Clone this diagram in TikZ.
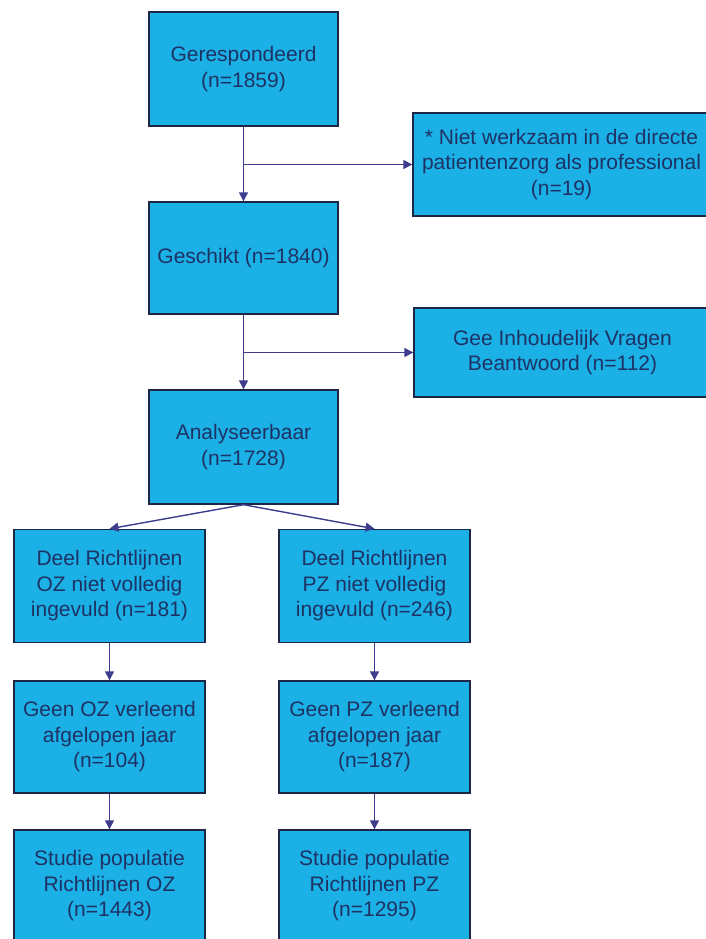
\documentclass[tikz,border=0pt]{standalone}
\usepackage{fontspec}
\setmainfont{Liberation Sans}
\usetikzlibrary{arrows.meta}
\definecolor{boxfill}{RGB}{27,176,230}
\definecolor{boxline}{RGB}{30,38,70}
\definecolor{arrowc}{RGB}{62,60,140}
\definecolor{textc}{RGB}{30,50,100}
\begin{document}
\begin{tikzpicture}[x=1pt,y=-1pt,
  fbox/.style={draw=boxline, line width=1.4pt, fill=boxfill, text=textc,
    align=center, inner sep=0pt, font=\fontsize{21}{25.5}\selectfont},
  mainbox/.style={fbox, minimum width=189pt, minimum height=114pt},
  sidebox/.style={fbox, minimum width=297pt},
  colbox/.style={fbox, minimum width=191pt, minimum height=113pt},
  conn/.style={draw=arrowc, line width=1.4pt, -{Triangle[length=9pt,width=9pt]}}]
\clip (0,0) rectangle (706,939);
\fill[white] (0,0) rectangle (706,939);
\node[mainbox] (b1) at (243.5,69) {Gerespondeerd\\(n=1859)};
\node[sidebox, minimum height=103pt] (n19) at (561.5,164.5) {* Niet werkzaam in de directe\\patientenzorg als professional\\(n=19)};
\node[mainbox, minimum height=112pt] (b2) at (243.5,258) {Geschikt (n=1840)};
\node[sidebox, minimum height=89pt] (n112) at (562.5,352.5) {Gee Inhoudelijk Vragen\\Beantwoord (n=112)};
\node[mainbox] (b3) at (243.5,447) {Analyseerbaar\\(n=1728)};
\node[colbox] (l1) at (109.5,586) {Deel Richtlijnen\\OZ niet volledig\\ingevuld (n=181)};
\node[colbox] (r1) at (374.5,586) {Deel Richtlijnen\\PZ niet volledig\\ingevuld (n=246)};
\node[colbox, minimum height=112pt] (l2) at (109.5,737) {Geen OZ verleend\\afgelopen jaar\\(n=104)};
\node[colbox, minimum height=112pt] (r2) at (374.5,737) {Geen PZ verleend\\afgelopen jaar\\(n=187)};
\node[colbox, minimum height=112pt] (l3) at (109.5,886) {Studie populatie\\Richtlijnen OZ\\(n=1443)};
\node[colbox, minimum height=112pt] (r3) at (374.5,886) {Studie populatie\\Richtlijnen PZ\\(n=1295)};
\draw[conn] (b1.south) -- (b2.north);
\draw[conn] (b1.south |- n19.west) -- (n19.west);
\draw[conn] (b2.south) -- (b3.north);
\draw[conn] (b2.south |- n112.west) -- (n112.west);
\draw[conn] (b3.south) -- (l1.north);
\draw[conn] (b3.south) -- (r1.north);
\draw[conn] (l1.south) -- (l2.north);
\draw[conn] (r1.south) -- (r2.north);
\draw[conn] (l2.south) -- (l3.north);
\draw[conn] (r2.south) -- (r3.north);
\end{tikzpicture}
\end{document}
